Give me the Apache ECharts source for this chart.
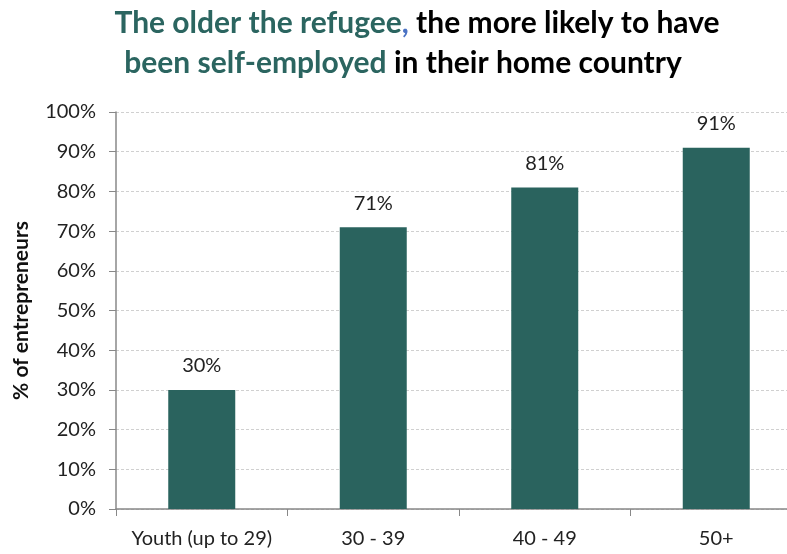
<!DOCTYPE html>
<html><head><meta charset="utf-8">
<script src="https://cdn.jsdelivr.net/npm/echarts@6/dist/echarts.min.js"></script>
<style>html,body{margin:0;padding:0;background:#fff}#c{width:787px;height:554px}</style>
</head><body><div id="c"></div>
<script>
const categories = ['Youth (up to 29)', '30 - 39', '40 - 49', '50+'];
const values = [30, 71, 81, 91];
const yTicks = [0, 10, 20, 30, 40, 50, 60, 70, 80, 90, 100];

const teal = '#2b6560';
const font = 'Lato';
const chart = echarts.init(document.getElementById('c'));
chart.setOption({
  animation: false,
  textStyle: { fontFamily: font },
  title: [
    { text: '{t|The older the refugee}{b|,}{k| the more likely to have}', left: 412, top: 3, textAlign: 'center',
      textStyle: { rich: {
        t: { fontFamily: font, fontWeight: 'bold', fontSize: 30, color: teal },
        b: { fontFamily: font, fontWeight: 'bold', fontSize: 30, color: '#4a72c4' },
        k: { fontFamily: font, fontWeight: 'bold', fontSize: 30, color: '#000' } } } },
    { text: '{t|been self-employed}{k| in their home country}', left: 398, top: 43, textAlign: 'center',
      textStyle: { rich: {
        t: { fontFamily: font, fontWeight: 'bold', fontSize: 30, color: teal },
        k: { fontFamily: font, fontWeight: 'bold', fontSize: 30, color: '#000' } } } }
  ],
  grid: { left: 116, top: 112, width: 686, bottom: 45, outerBoundsMode: 'none' },
  xAxis: {
    type: 'category', data: categories,
    axisLine: { lineStyle: { color: '#888', width: 1.5 } },
    axisTick: { show: true, length: 7, interval: 0, lineStyle: { color: '#888' }, alignWithLabel: false },
    axisLabel: { interval: 0, hideOverlap: false, fontFamily: font, fontSize: 20, color: '#222', margin: 20 }
  },
  yAxis: {
    type: 'value', min: yTicks[0], max: yTicks[yTicks.length - 1], interval: 10,
    name: '% of entrepreneurs', nameLocation: 'middle', nameGap: 84,
    nameTextStyle: { fontFamily: font, fontWeight: 'bold', fontSize: 21, color: '#111' },
    axisLine: { show: true, lineStyle: { color: '#888', width: 1.5 } },
    axisTick: { show: true, length: 7, lineStyle: { color: '#888' } },
    axisLabel: { fontFamily: font, fontSize: 20, color: '#222', margin: 20, formatter: '{value}%' },
    splitLine: { lineStyle: { color: '#d0d0d0', type: [3, 2], width: 1 } }
  },
  series: [{
    type: 'bar', data: values, barWidth: 67,
    itemStyle: { color: '#2a635e' },
    label: { show: true, position: 'top', distance: 14, formatter: '{c}%', fontFamily: font, fontSize: 20, color: '#222' }
  }]
});
</script></body></html>
